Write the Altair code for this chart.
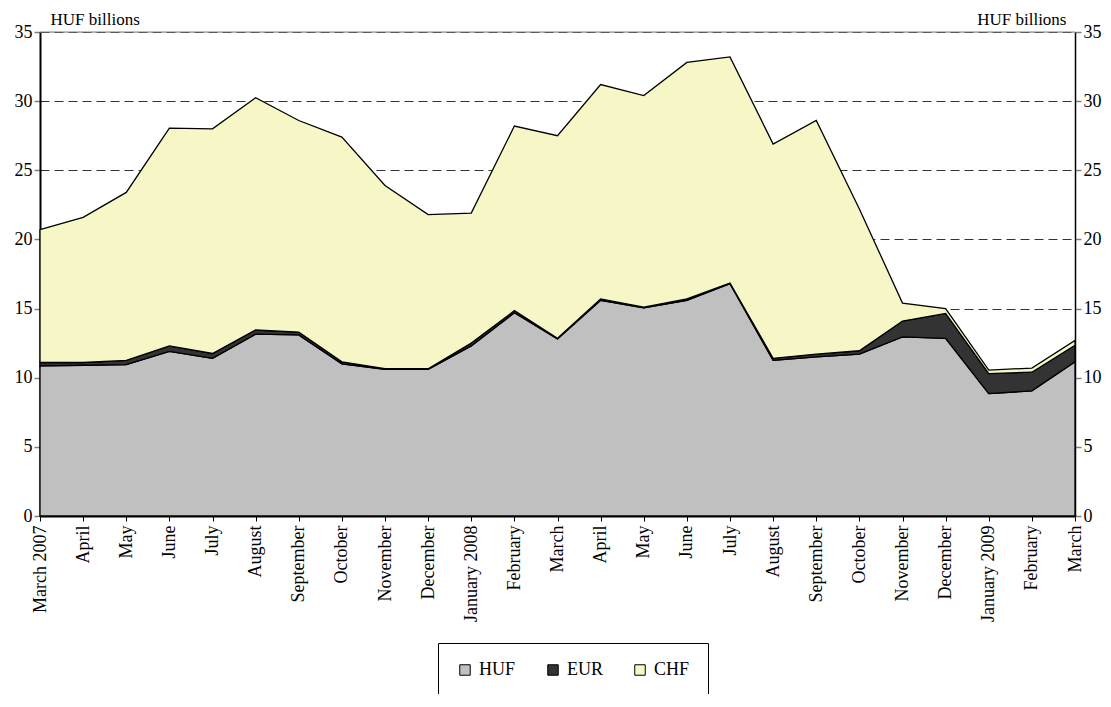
import altair as alt
import pandas as pd

months = ["March 2007", "April", "May", "June", "July", "August", "September",
          "October", "November", "December", "January 2008", "February", "March",
          "April", "May", "June", "July", "August", "September", "October",
          "November", "December", "January 2009", "February", "March"]
huf = [10.85, 10.9, 10.95, 11.9, 11.4, 13.15, 13.1, 11.0, 10.6, 10.6, 12.3, 14.7, 12.8,
       15.6, 15.05, 15.6, 16.8, 11.25, 11.5, 11.7, 12.95, 12.85, 8.85, 9.05, 11.15]
eur = [0.25, 0.2, 0.3, 0.4, 0.35, 0.3, 0.2, 0.15, 0.05, 0.05, 0.2, 0.15, 0.05,
       0.1, 0.05, 0.1, 0.05, 0.15, 0.2, 0.25, 1.15, 1.8, 1.45, 1.35, 1.2]
chf = [9.6, 10.5, 12.15, 15.75, 16.25, 16.8, 15.3, 16.25, 13.25, 11.15, 9.4, 13.35, 14.65,
       15.5, 15.3, 17.1, 16.35, 15.5, 16.9, 10.25, 1.3, 0.35, 0.25, 0.3, 0.35]
currencies = ["HUF", "EUR", "CHF"]
colors = ["#C0C0C0", "#333333", "#F6F6C6"]
y_ticks = [0, 5, 10, 15, 20, 25, 30, 35]
y_unit = "HUF billions"

rows = []
for i in range(len(months)):
    for k, (c, vals) in enumerate(zip(currencies, [huf, eur, chf])):
        rows.append({"idx": i, "currency": c, "ord": k, "value": vals[i]})
df = pd.DataFrame(rows)

W, H = 1035, 484
FONT = "Liberation Serif"
FS = 18
TFS = 17
label_expr = "[" + ",".join("'" + m + "'" for m in months) + "][datum.value]"

yscale = alt.Scale(domain=[0, 35], nice=False, zero=True)

x = alt.X("idx:Q",
          scale=alt.Scale(domain=[0, len(months) - 1], nice=False, zero=False),
          axis=alt.Axis(values=list(range(len(months))), labelExpr=label_expr,
                        labelAngle=270, labelAlign="right", labelBaseline="middle",
                        title=None, grid=False, domainColor="black", domainWidth=2,
                        tickColor="black", tickSize=5, tickWidth=1, labelPadding=4,
                        labelFontSize=FS, labelFont=FONT, labelColor="black"))

area = alt.Chart(df).mark_area(stroke="black", strokeWidth=1.3, opacity=1,
                               fillOpacity=1, strokeJoin="miter").encode(
    x=x,
    y=alt.Y("value:Q", stack="zero", scale=yscale,
            axis=alt.Axis(orient="left", values=y_ticks, grid=True, gridDash=[9, 5],
                          gridColor="#333333", gridWidth=1, domainColor="black",
                          domainWidth=2, tickColor="#808080", tickSize=6, tickWidth=1.5,
                          labelPadding=2, labelFontSize=FS, labelFont=FONT,
                          labelColor="black", title=y_unit, titleAngle=0,
                          titleAlign="left", titleBaseline="alphabetic", titleX=10,
                          titleY=-8, titleFont=FONT, titleFontSize=TFS,
                          titleFontWeight="normal", titleColor="black")),
    color=alt.Color("currency:N", scale=alt.Scale(domain=currencies, range=colors),
                    legend=alt.Legend(title=None, orient="none", legendX=398, legendY=611,
                                      direction="horizontal", strokeColor="black",
                                      padding=18, symbolType="square", symbolSize=110,
                                      symbolStrokeColor="black", symbolStrokeWidth=1,
                                      labelFontSize=18, labelFont=FONT, labelColor="black",
                                      columnPadding=28, labelOffset=5, fillColor="white",
                                      symbolOpacity=1)),
    order=alt.Order("ord:Q", sort="ascending"),
)

top = alt.Chart(pd.DataFrame({"y": [35]})).mark_rule(color="#808080", strokeWidth=1.2).encode(
    x=alt.value(0), x2=alt.value(W),
    y=alt.Y("y:Q", scale=yscale,
            axis=alt.Axis(orient="right", values=y_ticks, grid=False, domainColor="black",
                          domainWidth=1.5, tickColor="#808080", tickSize=6, tickWidth=1.5,
                          labelPadding=2, labelFontSize=FS, labelFont=FONT,
                          labelColor="black", title=y_unit, titleAngle=0,
                          titleAlign="right", titleBaseline="alphabetic", titleX=-9,
                          titleY=-8, titleFont=FONT, titleFontSize=TFS,
                          titleFontWeight="normal", titleColor="black")),
)

chart = alt.layer(area, top).resolve_scale(y="shared").resolve_axis(y="independent").properties(
    width=W, height=H,
    padding={"left": 32, "top": 24, "right": 27, "bottom": 178},
    autosize=alt.AutoSizeParams(type="none"),
).configure_view(strokeWidth=0).configure(background="white")

chart.save("out.html", embed_options={"renderer": "svg", "actions": False})
